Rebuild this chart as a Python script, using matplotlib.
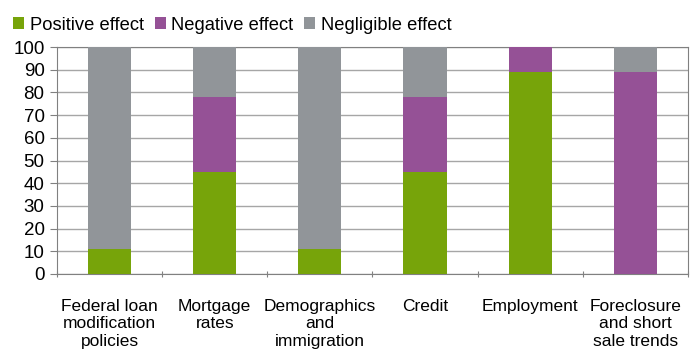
import matplotlib.pyplot as plt
import numpy as np

plt.rcParams['font.family'] = ['Liberation Sans', 'DejaVu Sans']

categories = ['Federal loan\nmodification\npolicies', 'Mortgage\nrates',
              'Demographics\nand\nimmigration', 'Credit', 'Employment',
              'Foreclosure\nand short\nsale trends']
positive = [11, 45, 11, 45, 89, 0]
negative = [0, 33, 0, 33, 11, 89]
negligible = [89, 22, 89, 22, 0, 11]

green = '#77a40a'
purple = '#955196'
gray = '#919599'
axis_gray = '#808080'

fig = plt.figure(figsize=(6.91, 3.54), dpi=100)
ax = fig.add_axes([0.0825, 0.226, 0.913, 0.641])

x = np.arange(len(categories))
w = 0.41
pos = np.array(positive)
neg = np.array(negative)
ax.bar(x, pos, w, color=green, label='Positive effect', zorder=3)
ax.bar(x, neg, w, bottom=pos, color=purple, label='Negative effect', zorder=3)
ax.bar(x, negligible, w, bottom=pos + neg, color=gray,
       label='Negligible effect', zorder=3)

ax.set_xlim(-0.5, len(categories) - 0.5)
ax.set_ylim(0, 100)
ax.set_yticks(range(0, 101, 10))
ax.yaxis.grid(True, color='#a6a6a6', linewidth=1, zorder=0)

# category separators as major ticks, names as minor tick labels
ax.set_xticks(np.arange(len(categories) + 1) - 0.5, minor=False)
ax.set_xticklabels([])
ax.set_xticks(x, minor=True)
ax.set_xticklabels(categories, minor=True, fontsize=12.5, linespacing=1.2)
ax.tick_params(axis='x', which='minor', length=0, pad=18)
ax.tick_params(axis='x', which='major', length=5, direction='inout',
               color=axis_gray)
ax.tick_params(axis='y', length=5, direction='out', color=axis_gray,
               labelsize=13.5, pad=4)
for s in ax.spines.values():
    s.set_color(axis_gray)

fig.legend(loc='upper left', bbox_to_anchor=(-0.005, 1.0), ncol=3,
           frameon=False, fontsize=13.2, handlelength=0.6, handleheight=0.6,
           handletextpad=0.3, columnspacing=0.6)

fig.savefig('out.png', dpi=100)
